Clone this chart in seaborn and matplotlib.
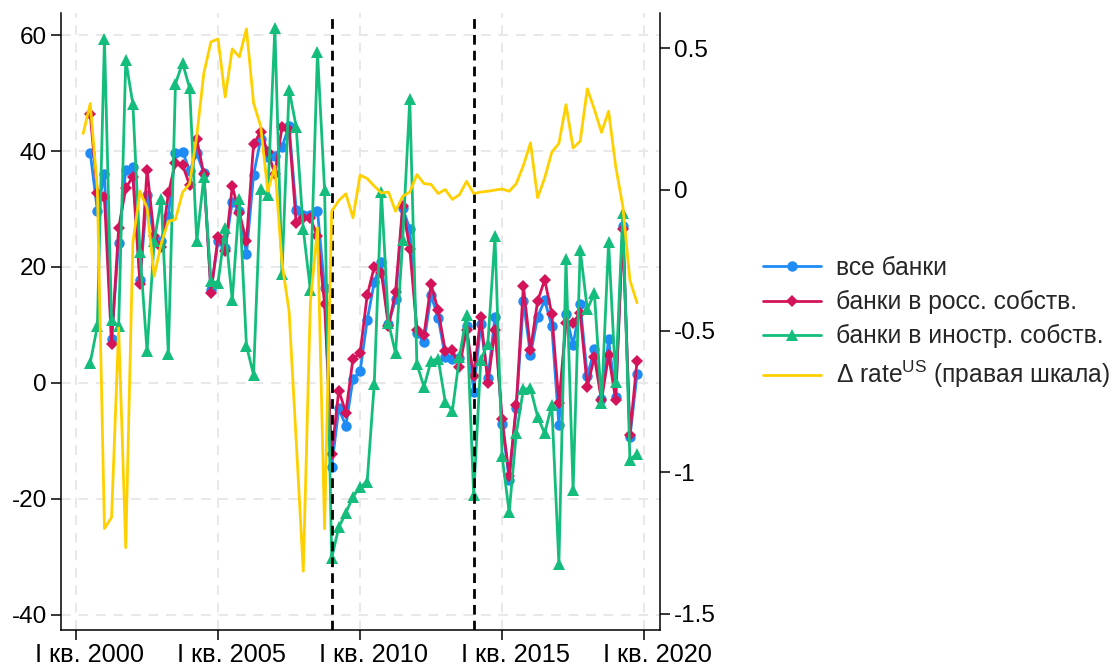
import numpy as np
import pandas as pd
import matplotlib
matplotlib.use("Agg")
import matplotlib.pyplot as plt
import matplotlib.transforms as mtransforms
import seaborn as sns
from matplotlib.ticker import FuncFormatter
from matplotlib.lines import Line2D

# ---------------- data ----------------
bank_start, bank_end = "2000Q3", "2019Q4"
rate_start, rate_end = "2000Q2", "2019Q4"

all_banks = [39.7, 29.7, 36.0, 7.5, 24.2, 36.8, 37.3, 17.7, 32.4, 24.8, 24.5, 28.8, 39.7, 39.9, 36.6, 39.6, 36.2, 16.0, 24.4,
             23.3, 31.2, 29.6, 22.2, 35.9, 42.0, 38.9, 39.2, 40.7, 44.3, 29.9, 28.9, 28.9, 29.7, 16.4,
             -14.5, -4.4, -7.4, 0.7, 2.0, 10.8, 17.4, 20.9, 10.1, 14.4, 30.1, 26.6, 8.6, 7.0, 15.1, 11.2, 4.5, 4.2, 4.3, 9.8,
             -1.5, 10.1, 0.8, 11.4, -7.1, -16.7, -4.4, 14.1, 4.8, 11.4, 14.3, 9.8, -7.3, 11.9, 6.5, 13.6, 1.2, 5.8, -2.8, 7.5,
             -2.5, 27.0, -9.4, 1.5]

russian_banks = [46.3, 32.8, 32.0, 6.8, 26.7, 33.6, 35.6, 17.1, 36.8, 25.3, 23.4, 32.7, 38.0, 37.6, 34.1, 42.0, 36.0, 15.6, 25.2,
                 22.7, 33.9, 29.3, 24.4, 41.2, 43.3, 39.8, 36.1, 44.1, 43.6, 27.6, 28.5, 28.4, 25.3, 13.7,
                 -12.2, -1.3, -5.1, 4.2, 5.1, 15.1, 20.0, 19.0, 9.8, 15.7, 30.6, 23.1, 9.2, 8.3, 17.0, 12.5, 5.5, 5.7, 2.8, 9.2,
                 1.2, 11.4, 0.0, 9.2, -6.2, -16.0, -3.8, 16.7, 5.7, 14.1, 17.8, 11.9, -3.5, 10.4, 10.4, 12.1, -0.7, 4.5, -3.0, 4.8,
                 -2.9, 26.6, -8.9, 3.8]

foreign_banks = [3.5, 9.8, 59.3, 10.8, 9.8, 55.7, 48.1, 22.6, 5.5, 24.4, 31.7, 5.0, 51.6, 55.2, 50.8, 24.4, 35.6, 17.5, 17.3,
                 26.7, 14.3, 31.7, 6.4, 1.4, 33.5, 32.4, 61.2, 18.8, 50.6, 44.2, 26.5, 16.0, 57.1, 33.3,
                 -30.2, -24.9, -22.4, -19.6, -18.0, -17.0, -0.1, 33.0, 10.4, 5.1, 24.6, 48.9, 3.3, -0.7, 3.8, 4.2, -3.3, -4.8, 4.5, 11.8,
                 -19.4, 4.0, 6.8, 25.3, -12.6, -22.3, -8.7, -1.1, -0.9, -5.8, -8.7, -3.8, -31.2, 21.3, -18.5, 23.0, 12.7, 15.5, -3.5, 24.3,
                 0.2, 29.3, -13.2, -12.2]

rate_us = [0.198, 0.304, 0.0, -1.198, -1.159, -0.489, -1.266, -0.188, -0.006, -0.065, -0.306, -0.19, -0.112, -0.106, -0.01,
           0.02, 0.19, 0.412, 0.522, 0.532, 0.327, 0.497, 0.469, 0.568, 0.306, 0.224, -0.006, 0.082, -0.259, -0.43, -0.887,
           -1.349, -0.40, -0.135, -1.199,
           -0.077, -0.039, -0.015, -0.1, 0.051, 0.039, 0.012, -0.012, -0.009, -0.077, -0.024, -0.009, 0.053, 0.021, 0.018,
           -0.014, 0.0, -0.035, -0.018, 0.029, -0.014, -0.009, -0.006, -0.002, 0.002, -0.006, 0.021, 0.085, 0.165, -0.029,
           0.041, 0.132, 0.163, 0.3, 0.147, 0.171, 0.356, 0.283, 0.202, 0.277, 0.082, -0.059, -0.32, -0.40]

event_quarters = ["2009Q1", "2014Q1"]
tick_years = [2000, 2005, 2010, 2015, 2020]
tick_labels = ["I кв. 2000", "I кв. 2005", "I кв. 2010", "I кв. 2015", "I кв. 2020"]
left_ticks = [-40, -20, 0, 20, 40, 60]
right_ticks = [-1.5, -1, -0.5, 0, 0.5]

labels = ["все банки", "банки в росс. собств.", "банки в иностр. собств.",
          "Δ rate$^{\\mathregular{US}}$ (правая шкала)"]
colors = ["#1f8bf5", "#d3145a", "#14bd7c", "#ffd000"]


def qx(periods):
    return periods.year + (periods.quarter - 1) / 4.0


bank_q = pd.period_range(bank_start, bank_end, freq="Q")
rate_q = pd.period_range(rate_start, rate_end, freq="Q")

banks = pd.DataFrame({"t": qx(bank_q), labels[0]: all_banks, labels[1]: russian_banks, labels[2]: foreign_banks})
rates = pd.DataFrame({"t": qx(rate_q), "rate": rate_us})

# ---------------- style ----------------
sns.set_theme(style="white")
plt.rcParams["font.family"] = ["Liberation Sans", "DejaVu Sans"]
plt.rcParams["axes.unicode_minus"] = False
plt.rcParams["mathtext.fontset"] = "custom"
plt.rcParams["mathtext.rm"] = "Liberation Sans"

W, H = 1113, 666
fig = plt.figure(figsize=(W / 100, H / 100), dpi=100)
ax = fig.add_axes([61 / W, 1 - 630 / H, (660 - 61) / W, (630 - 13) / H])

markers = ["o", "D", "^"]
msizes = [7.5, 6.3, 9]
LW = 2.0
for lab, col, mk, ms in zip(labels[:3], colors[:3], markers, msizes):
    sns.lineplot(data=banks, x="t", y=lab, ax=ax, color=col, marker=mk, markersize=ms,
                 markeredgewidth=0, linewidth=LW, legend=False)

for q in event_quarters:
    p = pd.Period(q, freq="Q")
    ax.axvline(p.year + (p.quarter - 1) / 4.0, color="black", linestyle=(0, (3.5, 2.2)), linewidth=2.0, zorder=5)

ax2 = ax.twinx()
sns.lineplot(data=rates, x="t", y="rate", ax=ax2, color=colors[3], linewidth=LW, legend=False)

ax.set_xlim(1999.47, 2020.56)
ax.set_ylim(-42.6, 63.8)
ax2.set_ylim(-1.557, 0.624)

ax.set_xticks(tick_years)
ax.set_xticklabels(tick_labels)
ax.set_yticks(left_ticks)
ax.set_yticklabels([f"{v:g}" for v in left_ticks])
ax2.set_yticks(right_ticks)
ax2.yaxis.set_major_formatter(FuncFormatter(lambda v, p: f"{v:g}"))

ax.set_xlabel("")
ax.set_ylabel("")
ax2.set_ylabel("")

ax.grid(True, color="#e8e8e8", linestyle=(0, (5, 4)), linewidth=1.4)
ax.set_axisbelow(True)
ax2.grid(False)

for a in (ax, ax2):
    a.spines["top"].set_visible(False)
    for s in a.spines.values():
        s.set_color("black")
        s.set_linewidth(1.1)
ax.spines["right"].set_visible(False)
ax2.spines["left"].set_visible(False)
ax2.spines["bottom"].set_visible(False)

ax.tick_params(axis="y", direction="out", length=7, width=1.1, labelsize=17.5, colors="black", pad=3, left=True)
ax.tick_params(axis="x", direction="out", length=7, width=1.1, labelsize=18.3, colors="black", pad=2, bottom=True)
ax2.tick_params(axis="y", direction="out", length=7, width=1.1, labelsize=17.5, colors="black", pad=3, right=True)

# the reference's date labels sit slightly right of their ticks
shift = mtransforms.ScaledTranslation(13 / 100, 0, fig.dpi_scale_trans)
for lbl in ax.get_xticklabels():
    lbl.set_transform(lbl.get_transform() + shift)

handles = [Line2D([], [], color=c, marker=m, markersize=s, markeredgewidth=0, linewidth=LW)
           for c, m, s in zip(colors[:3], markers, msizes)]
handles.append(Line2D([], [], color=colors[3], linewidth=LW))
fig.legend(handles, labels, loc="center left", bbox_to_anchor=(763 / W, 1 - 323 / H), frameon=False,
           fontsize=17.7, handlelength=2.35, handletextpad=0.62, labelspacing=0.42, borderpad=0, borderaxespad=0)

fig.savefig("out.png", dpi=100)
